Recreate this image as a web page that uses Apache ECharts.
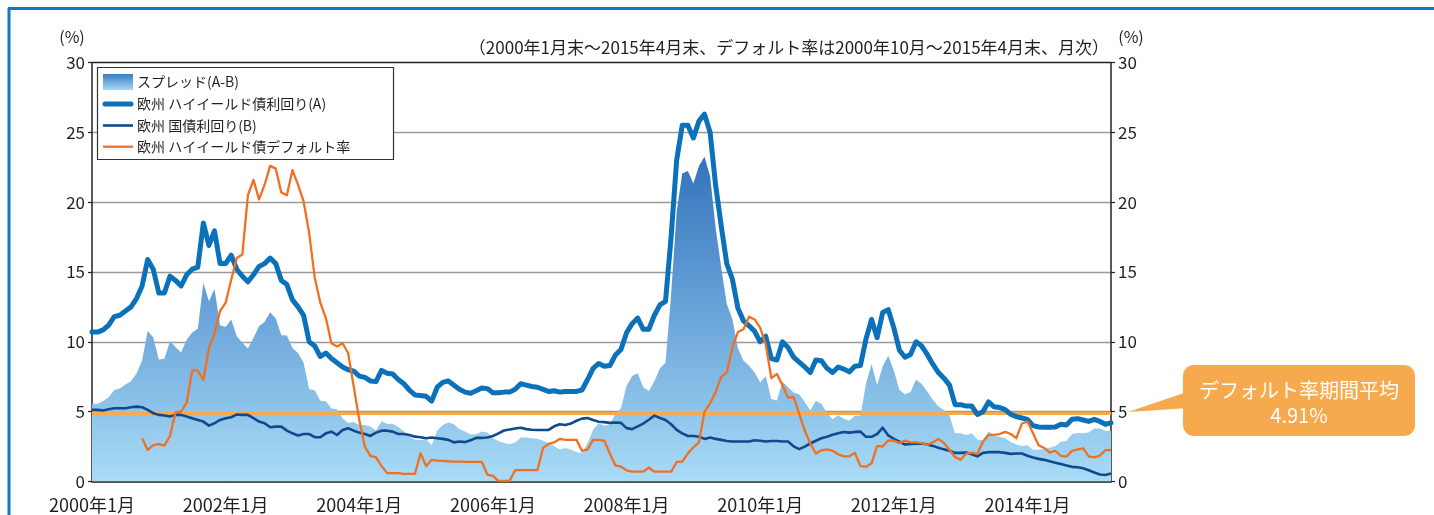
<!DOCTYPE html>
<html>
<head>
<meta charset="utf-8">
<script src="https://cdn.jsdelivr.net/npm/echarts@6/dist/echarts.min.js"></script>
<style>
html,body{margin:0;padding:0;background:#fff;}
#chart{width:1434px;height:515px;}
</style>
</head>
<body>
<div id="chart"></div>
<script>
// ---- data ----
const startYear = 2000, endYear = 2015, endMonth = 4;
const months = [];
for (let y = startYear; y <= endYear; y++) {
  for (let m = 1; m <= 12; m++) {
    if (y === endYear && m > endMonth) break;
    months.push(y + '年' + m + '月');
  }
}

const yTicks = [0, 5, 10, 15, 20, 25, 30];
const defaultAvg = 4.91;

// 欧州 ハイイールド債利回り(A)
const yieldA = [10.7,10.7,10.85,11.2,11.8,11.9,12.2,12.5,13.1,14.0,
15.9,15.2,13.5,13.5,14.7,14.4,14.0,14.8,15.2,15.35,
18.5,16.9,17.95,15.6,15.6,16.2,15.2,14.7,14.3,14.8,
15.4,15.6,16.0,15.6,14.4,14.1,13.0,12.5,11.9,10.0,
9.7,8.95,9.2,8.8,8.5,8.2,8.0,7.9,7.55,7.45,
7.2,7.15,7.95,7.75,7.7,7.3,7.0,6.55,6.2,6.15,
6.1,5.75,6.75,7.1,7.2,6.9,6.6,6.4,6.32,6.5,
6.7,6.65,6.35,6.35,6.4,6.4,6.6,7.0,6.9,6.8,
6.75,6.6,6.45,6.5,6.4,6.45,6.45,6.45,6.55,7.3,
8.1,8.45,8.25,8.3,9.05,9.45,10.65,11.3,11.7,10.9,
10.9,11.9,12.65,12.9,17.5,23.0,25.5,25.5,24.6,25.8,
26.3,25.0,21.2,18.3,15.6,14.5,12.4,11.5,11.15,10.75,
10.0,10.4,8.8,8.7,10.0,9.6,8.9,8.55,8.2,7.8,
8.7,8.65,8.1,7.8,8.2,8.05,7.85,8.25,8.3,10.2,
11.6,10.3,12.1,12.3,11.0,9.4,8.9,9.1,10.0,9.7,
9.1,8.4,7.8,7.4,6.9,5.5,5.5,5.4,5.4,4.8,
5.0,5.7,5.35,5.3,5.15,4.8,4.65,4.55,4.45,4.0,
3.9,3.88,3.88,3.9,4.1,4.05,4.45,4.5,4.4,4.3,
4.45,4.3,4.1,4.2];

// 欧州 国債利回り(B)
const govB = [5.13,5.13,5.08,5.17,5.25,5.25,5.25,5.32,5.36,5.32,
5.13,4.89,4.77,4.72,4.65,4.77,4.77,4.65,4.53,4.41,
4.29,4.0,4.17,4.41,4.53,4.6,4.8,4.77,4.77,4.53,
4.29,4.17,3.88,3.93,3.93,3.64,3.45,3.3,3.4,3.4,
3.17,3.17,3.45,3.57,3.33,3.69,3.81,3.64,3.5,3.4,
3.26,3.5,3.64,3.64,3.57,3.4,3.4,3.33,3.21,3.17,
3.1,3.15,3.1,3.05,2.98,2.8,2.86,2.82,2.95,3.12,
3.12,3.15,3.26,3.45,3.65,3.72,3.8,3.85,3.75,3.7,
3.69,3.69,3.69,3.95,4.1,4.05,4.15,4.35,4.5,4.55,
4.4,4.28,4.25,4.2,4.22,4.2,3.82,3.75,3.95,4.15,
4.42,4.72,4.55,4.4,4.1,3.7,3.45,3.26,3.26,3.21,
3.05,3.15,3.05,2.98,2.9,2.86,2.86,2.86,2.86,2.95,
2.92,2.86,2.9,2.9,2.86,2.86,2.52,2.32,2.5,2.72,
2.92,3.1,3.2,3.35,3.45,3.55,3.5,3.55,3.57,3.2,
3.2,3.4,3.85,3.3,3.05,2.85,2.65,2.69,2.7,2.72,
2.65,2.55,2.42,2.3,2.2,2.05,2.05,2.07,1.95,1.8,
2.05,2.1,2.1,2.1,2.05,1.98,2.0,2.0,1.85,1.72,
1.62,1.55,1.45,1.35,1.25,1.15,1.05,1.02,0.95,0.8,
0.65,0.5,0.47,0.58];

// スプレッド(A-B)
const spreadAB = [5.57,5.57,5.77,6.03,6.55,6.65,6.95,7.18,7.74,8.68,
10.77,10.31,8.73,8.78,10.05,9.63,9.23,10.15,10.67,10.94,
14.21,12.9,13.78,11.19,11.07,11.6,10.4,9.93,9.53,10.27,
11.11,11.43,12.12,11.67,10.47,10.46,9.55,9.2,8.5,6.6,
6.53,5.78,5.75,5.23,5.17,4.51,4.19,4.26,4.05,4.05,
3.94,3.65,4.31,4.11,4.13,3.9,3.6,3.22,2.99,2.98,
3.0,2.6,3.65,4.05,4.22,4.1,3.74,3.58,3.37,3.38,
3.58,3.5,3.09,2.9,2.75,2.68,2.8,3.15,3.15,3.1,
3.06,2.91,2.76,2.55,2.3,2.4,2.3,2.1,2.05,2.75,
3.7,4.17,4.0,4.1,4.83,5.25,6.83,7.55,7.75,6.75,
6.48,7.18,8.1,8.5,13.4,19.3,22.05,22.24,21.34,22.59,
23.25,21.85,18.15,15.32,12.7,11.64,9.54,8.64,8.29,7.8,
7.08,7.54,5.9,5.8,7.14,6.74,6.38,6.23,5.7,5.08,
5.78,5.55,4.9,4.45,4.75,4.5,4.35,4.7,4.73,7.0,
8.4,6.9,8.25,9.0,7.95,6.55,6.25,6.41,7.3,6.98,
6.45,5.85,5.38,5.1,4.7,3.45,3.45,3.33,3.45,3.0,
2.95,3.6,3.25,3.2,3.1,2.82,2.65,2.55,2.6,2.28,
2.28,2.33,2.43,2.55,2.85,2.9,3.4,3.48,3.45,3.5,
3.8,3.8,3.63,3.62];

// 欧州 ハイイールド債デフォルト率 (2000年10月～)
const defaultRate = [null,null,null,null,null,null,null,null,null,3.1,
2.26,2.6,2.67,2.57,3.26,4.96,5.0,5.65,7.95,7.95,
7.28,9.55,10.6,12.2,12.8,14.45,16.0,16.25,20.5,21.6,
20.2,21.25,22.6,22.4,20.7,20.5,22.3,21.25,20.05,17.8,
14.6,12.8,11.7,9.9,9.67,9.9,9.2,6.8,4.41,2.5,
1.83,1.73,1.11,0.6,0.6,0.6,0.55,0.55,0.55,2.02,
1.1,1.55,1.5,1.48,1.45,1.43,1.42,1.4,1.4,1.4,
1.4,0.5,0.4,0.05,0.05,0.05,0.82,0.82,0.82,0.82,
0.82,2.4,2.69,2.8,3.05,2.98,2.98,2.98,2.2,2.3,
2.98,2.98,2.93,2.0,1.15,1.06,0.8,0.7,0.7,0.7,
1.0,0.7,0.7,0.7,0.7,1.4,1.42,2.0,2.45,2.8,
5.0,5.6,6.4,7.5,7.8,9.6,10.7,10.9,11.8,11.6,
11.0,9.8,7.4,7.7,6.9,6.0,6.05,4.85,3.65,2.72,
2.0,2.23,2.3,2.2,1.95,1.8,1.8,2.05,1.1,1.06,
1.3,2.55,2.5,2.95,2.93,2.75,2.93,2.8,2.8,2.74,
2.62,2.8,3.05,2.75,2.25,1.75,1.55,2.0,2.07,1.97,
2.85,3.34,3.34,3.4,3.55,3.4,3.1,4.15,4.29,3.45,
2.6,2.4,2.07,2.2,1.83,1.78,2.2,2.3,2.38,1.8,
1.73,1.85,2.25,2.26];

const seriesNames = ['スプレッド(A-B)', '欧州 ハイイールド債利回り(A)', '欧州 国債利回り(B)', '欧州 ハイイールド債デフォルト率'];
const noteText = '（2000年1月末～2015年4月末、デフォルト率は2000年10月～2015年4月末、月次）';
const calloutTitle = 'デフォルト率期間平均';
const calloutValue = '4.91%';

// ---- styles ----
const FONT = '"Noto Sans CJK JP", "Noto Sans", sans-serif';
const TXT = '#231f20';
const C_A = '#0a71ba', C_B = '#0e4a8c', C_D = '#f07022', C_AVG = '#f7a94e';
const labelEvery = (idx) => idx % 24 === 0;

const chart = echarts.init(document.getElementById('chart'), null, {renderer: 'canvas'});

const spreadGrad = new echarts.graphic.LinearGradient(0, 0, 0, 1, [
  {offset: 0, color: '#3373bb'},
  {offset: 0.5, color: '#6ca6da'},
  {offset: 1, color: '#a9dcf7'}
]);

const yAxisCommon = {
  type: 'value', min: 0, max: 30, interval: 5,
  axisLine: {show: true, lineStyle: {color: '#222', width: 1.5}},
  axisTick: {show: true, length: 4, lineStyle: {color: '#222', width: 1.2}},
  axisLabel: {fontSize: 17, color: TXT, fontFamily: FONT, margin: 7}
};

const legendX = 97, legendY = 67;
const legendRows = [82, 104, 125.5, 146.7];

chart.setOption({
  animation: false,
  backgroundColor: '#fff',
  grid: {left: 92, right: 323, top: 62.5, bottom: 33.5, containLabel: false},
  xAxis: {
    type: 'category', data: months, boundaryGap: false,
    axisLine: {show: true, lineStyle: {color: '#222', width: 1.5}},
    axisTick: {show: true, inside: true, length: 7, interval: labelEvery, lineStyle: {color: '#222', width: 1.2}},
    axisLabel: {interval: labelEvery, fontSize: 18, color: TXT, fontFamily: FONT, margin: 15, hideOverlap: false},
    splitLine: {show: false}
  },
  yAxis: [
    Object.assign({}, yAxisCommon, {
      position: 'left',
      splitLine: {show: true, lineStyle: {color: ['#9a9a9a','#9a9a9a','#9a9a9a','#9a9a9a','#9a9a9a','#9a9a9a','#222'], width: 1.3}}
    }),
    Object.assign({}, yAxisCommon, {
      position: 'right',
      splitLine: {show: false}
    })
  ],
  series: [
    {
      name: seriesNames[0], type: 'line', data: spreadAB, symbol: 'none', z: 1,
      lineStyle: {width: 0, opacity: 0},
      areaStyle: {color: spreadGrad, opacity: 1},
      silent: true,
      markLine: {
        z: 2, silent: true, symbol: ['none', 'none'], label: {show: false},
        lineStyle: {color: C_AVG, width: 3, type: 'solid'},
        data: [{yAxis: defaultAvg}]
      }
    },
    {
      name: seriesNames[2], type: 'line', data: govB, symbol: 'none', z: 3,
      lineStyle: {color: C_B, width: 2.6, join: 'round'}
    },
    {
      name: seriesNames[1], type: 'line', data: yieldA, symbol: 'none', z: 4,
      lineStyle: {color: C_A, width: 5, join: 'round', cap: 'round'}
    },
    {
      name: seriesNames[3], type: 'line', data: defaultRate, symbol: 'none', z: 5,
      connectNulls: false,
      lineStyle: {color: C_D, width: 2.3, join: 'round'}
    }
  ],
  graphic: [
    // outer frame (blue)
    {type: 'line', shape: {x1: 8, y1: 8.5, x2: 1434, y2: 8.5}, style: {stroke: '#1479c1', lineWidth: 3}, z: 10},
    {type: 'line', shape: {x1: 9, y1: 8, x2: 9, y2: 515}, style: {stroke: '#1479c1', lineWidth: 3}, z: 10},
    // unit labels
    {type: 'text', x: 72, y: 37, style: {text: '(%)', font: '16px ' + FONT, fill: TXT, textAlign: 'center', textVerticalAlign: 'middle'}, z: 10},
    {type: 'text', x: 1131, y: 37, style: {text: '(%)', font: '16px ' + FONT, fill: TXT, textAlign: 'center', textVerticalAlign: 'middle'}, z: 10},
    // note
    {type: 'text', x: 1109, y: 48, style: {text: noteText, font: '17px ' + FONT, fill: TXT, textAlign: 'right', textVerticalAlign: 'middle'}, z: 10},
    // legend
    {type: 'rect', shape: {x: legendX + 0.5, y: legendY + 0.5, width: 296, height: 92}, style: {fill: '#fff', stroke: '#333', lineWidth: 1.2}, z: 20},
    {type: 'rect', shape: {x: 103, y: legendRows[0] - 8, width: 30, height: 16},
      style: {fill: new echarts.graphic.LinearGradient(0, 0, 0, 1, [{offset: 0, color: '#3a7cc2'}, {offset: 1, color: '#a9d8f5'}])}, z: 21},
    {type: 'line', shape: {x1: 105, y1: legendRows[1], x2: 131, y2: legendRows[1]}, style: {stroke: C_A, lineWidth: 5, lineCap: 'round'}, z: 21},
    {type: 'line', shape: {x1: 103, y1: legendRows[2], x2: 133, y2: legendRows[2]}, style: {stroke: C_B, lineWidth: 2.6}, z: 21},
    {type: 'line', shape: {x1: 103, y1: legendRows[3], x2: 133, y2: legendRows[3]}, style: {stroke: C_D, lineWidth: 2.3}, z: 21},
    {type: 'text', x: 137, y: legendRows[0], style: {text: seriesNames[0], font: '14px ' + FONT, fill: TXT, textVerticalAlign: 'middle'}, z: 21},
    {type: 'text', x: 137, y: legendRows[1], style: {text: seriesNames[1], font: '14px ' + FONT, fill: TXT, textVerticalAlign: 'middle'}, z: 21},
    {type: 'text', x: 137, y: legendRows[2], style: {text: seriesNames[2], font: '14px ' + FONT, fill: TXT, textVerticalAlign: 'middle'}, z: 21},
    {type: 'text', x: 137, y: legendRows[3], style: {text: seriesNames[3], font: '14px ' + FONT, fill: TXT, textVerticalAlign: 'middle'}, z: 21},
    // callout
    {type: 'polygon', shape: {points: [[1128, 412], [1190, 391], [1190, 408]]}, style: {fill: C_AVG}, z: 20},
    {type: 'rect', shape: {x: 1183, y: 365, width: 232, height: 71, r: 11}, style: {fill: C_AVG}, z: 20},
    {type: 'text', x: 1299, y: 390, style: {text: calloutTitle, font: '20px ' + FONT, fill: '#fff', textAlign: 'center', textVerticalAlign: 'middle'}, z: 21},
    {type: 'text', x: 1299, y: 415, style: {text: calloutValue, font: '20px ' + FONT, fill: '#fff', textAlign: 'center', textVerticalAlign: 'middle'}, z: 21}
  ]
});
</script>
</body>
</html>
